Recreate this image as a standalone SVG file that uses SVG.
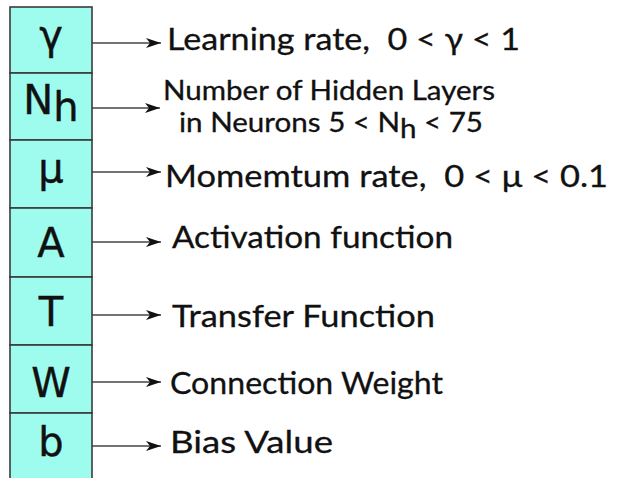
<svg xmlns="http://www.w3.org/2000/svg" width="617" height="478" viewBox="0 0 617 478">
<defs>
<marker id="ah" markerWidth="16" markerHeight="12" refX="15" refY="6" orient="auto" markerUnits="userSpaceOnUse">
<path d="M0,1 L15,6 L0,11 L4,6 Z" fill="#111"/>
</marker>
<style>
.cell{fill:#9efcef;stroke:#3a3a3a;stroke-width:1.6}
.sym{font-family:"DejaVu Sans",Verdana,sans-serif;font-size:40px;fill:#111;text-anchor:middle;stroke:#111;stroke-width:0.4}
.lbl{font-family:Lato,"Liberation Sans",sans-serif;font-size:31px;fill:#111;stroke:#111;stroke-width:0.3}
.sm{font-size:26px}
.conn{stroke:#444;stroke-width:1.6;fill:none;marker-end:url(#ah)}
</style>
</defs>
<rect width="617" height="478" fill="#fff"/>
<g id="node-gamma"><rect class="cell" x="10" y="7" width="82" height="66"/><text class="sym" x="51" y="49">γ</text></g>
<g id="node-nh"><rect class="cell" x="10" y="73" width="82" height="67"/><text class="sym" x="51" y="114">N<tspan dy="7">h</tspan></text></g>
<g id="node-mu"><rect class="cell" x="10" y="140" width="82" height="68"/><text class="sym" x="51" y="182">μ</text></g>
<g id="node-a"><rect class="cell" x="10" y="208" width="82" height="69"/><text class="sym" x="51" y="257">A</text></g>
<g id="node-t"><rect class="cell" x="10" y="277" width="82" height="68"/><text class="sym" x="51" y="326">T</text></g>
<g id="node-w"><rect class="cell" x="10" y="345" width="82" height="68"/><text class="sym" x="51" y="397">W</text></g>
<g id="node-b"><rect class="cell" x="10" y="413" width="82" height="70"/><text class="sym" x="51" y="456">b</text></g>
<g id="connectors">
<line class="conn" x1="92" y1="43" x2="161" y2="43"/>
<line class="conn" x1="92" y1="108" x2="160" y2="108"/>
<line class="conn" x1="92" y1="172" x2="161" y2="172"/>
<line class="conn" x1="92" y1="242" x2="161" y2="242"/>
<line class="conn" x1="92" y1="315" x2="161" y2="315"/>
<line class="conn" x1="92" y1="382" x2="161" y2="382"/>
<line class="conn" x1="92" y1="446" x2="161" y2="446"/>
</g>
<g id="labels">
<text class="lbl" x="167" y="50" textLength="353" lengthAdjust="spacingAndGlyphs">Learning rate,&#160; 0 &lt; γ &lt; 1</text>
<text class="lbl sm" x="163" y="100" textLength="332" lengthAdjust="spacingAndGlyphs">Number of Hidden Layers</text>
<text class="lbl sm" x="179" y="132" textLength="304" lengthAdjust="spacingAndGlyphs">in Neurons 5 &lt; N<tspan dy="6">h</tspan><tspan dy="-6"> &lt; 75</tspan></text>
<text class="lbl" x="165" y="187" textLength="443" lengthAdjust="spacingAndGlyphs">Momemtum rate,&#160; 0 &lt; μ &lt; 0.1</text>
<text class="lbl" x="172" y="248" textLength="281" lengthAdjust="spacingAndGlyphs">Activation function</text>
<text class="lbl" x="172" y="327" textLength="263" lengthAdjust="spacingAndGlyphs">Transfer Function</text>
<text class="lbl" x="170" y="394" textLength="273" lengthAdjust="spacingAndGlyphs">Connection Weight</text>
<text class="lbl" x="170" y="453" textLength="163" lengthAdjust="spacingAndGlyphs">Bias Value</text>
</g>
</svg>
